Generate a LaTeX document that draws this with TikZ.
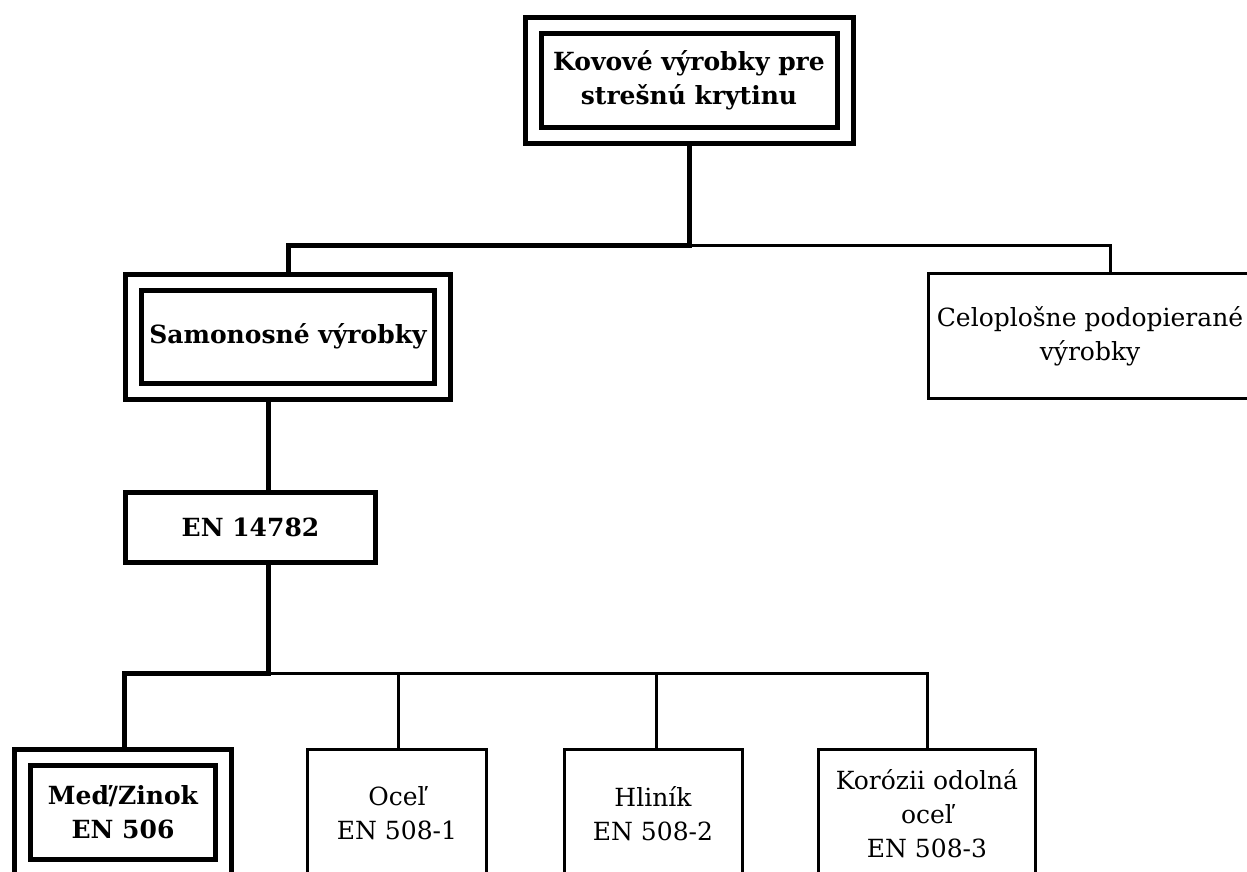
\documentclass[tikz,border=0pt]{standalone}
\usepackage{fontspec}
\setmainfont{DejaVu Serif}

\begin{document}
\begin{tikzpicture}[x=1pt,y=-1pt,
  box/.style={draw,rectangle,align=center,inner sep=0pt,font=\fontsize{25}{34}\selectfont},
  double node/.style={box,line width=5pt,double,double distance=11pt,outer sep=10.5pt,font=\fontsize{25}{34}\selectfont\bfseries},
  bold node/.style={box,line width=5pt,font=\fontsize{25}{34}\selectfont\bfseries},
  plain node/.style={box,line width=3pt},
  thick line/.style={line width=5pt},
  thin line/.style={line width=3pt}]

\useasboundingbox (0,0) rectangle (1247,871);

\node[double node,minimum width=312pt,minimum height=110pt](kovove) at (689,80) {Kovové výrobky pre\\strešnú krytinu};
\node[double node,minimum width=309pt,minimum height=109pt](samonosne) at (288,336.5) {Samonosné výrobky};
\node[plain node,minimum width=323pt,minimum height=125pt](celoplosne) at (1090,336) {Celoplošne podopierané\\výrobky};
\node[bold node,minimum width=250pt,minimum height=70pt](en) at (250.5,527.5) {EN 14782};

\node[double node,minimum width=201pt,minimum height=110pt](med) at (123,812) {Meď/Zinok\\EN 506};
\node[plain node,minimum width=179pt,minimum height=128pt](ocel) at (397,813.5) {Oceľ\\EN 508-1};
\node[plain node,minimum width=178pt,minimum height=128pt](hlinik) at (653,813.5) {Hliník\\EN 508-2};
\node[plain node,minimum width=217pt,minimum height=128pt](korozia) at (927,813.5) {Korózii odolná\\oceľ\\EN 508-3};

\coordinate (top split) at (689,245);
\coordinate (low split) at (268,673);

\draw[thick line] (kovove.south) -- (top split) -| (samonosne.north);
\draw[thin line] (top split) -| ([xshift=20pt]celoplosne.north);
\draw[thick line] ([xshift=-20pt]samonosne.south) -- ([xshift=17.5pt]en.north);
\draw[thick line] ([xshift=17.5pt]en.south) -- (low split) -| ([xshift=1pt]med.north);
\draw[thin line] (low split) -| ([xshift=1pt]ocel.north);
\draw[thin line] (low split) -| ([xshift=3pt]hlinik.north);
\draw[thin line] (low split) -| (korozia.north);
\end{tikzpicture}
\end{document}
